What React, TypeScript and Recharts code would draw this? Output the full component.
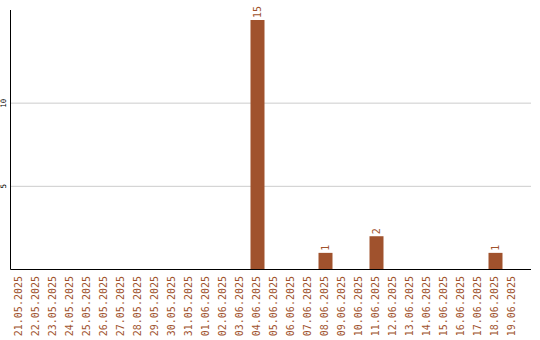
import React from "react";
import { BarChart, Bar, XAxis, YAxis, CartesianGrid, LabelList } from "recharts";

const dates = [
  "21.05.2025", "22.05.2025", "23.05.2025", "24.05.2025", "25.05.2025",
  "26.05.2025", "27.05.2025", "28.05.2025", "29.05.2025", "30.05.2025",
  "31.05.2025", "01.06.2025", "02.06.2025", "03.06.2025", "04.06.2025",
  "05.06.2025", "06.06.2025", "07.06.2025", "08.06.2025", "09.06.2025",
  "10.06.2025", "11.06.2025", "12.06.2025", "13.06.2025", "14.06.2025",
  "15.06.2025", "16.06.2025", "17.06.2025", "18.06.2025", "19.06.2025",
];
const counts = [
  0, 0, 0, 0, 0, 0, 0, 0, 0, 0,
  0, 0, 0, 0, 15, 0, 0, 0, 1, 0,
  0, 2, 0, 0, 0, 0, 0, 0, 1, 0,
];
const yTicks = [5, 10];

const data = dates.map((d, i) => ({ date: d, value: counts[i] }));

const BROWN = "#a0522d";
const MONO = "'DejaVu Sans Mono', 'Liberation Mono', monospace";

const XTick = (props: any) => {
  const { x, payload } = props;
  const y = 276;
  return (
    <text
      x={x - 1}
      y={y}
      transform={`rotate(-90 ${x - 1} ${y})`}
      textAnchor="end"
      dominantBaseline="central"
      fill={BROWN}
      fontFamily={MONO}
      fontSize={10}
    >
      {payload.value}
    </text>
  );
};

const YTick = (props: any) => {
  const { y, payload } = props;
  const x = 4;
  return (
    <text
      x={x}
      y={y}
      transform={`rotate(-90 ${x} ${y})`}
      textAnchor="middle"
      dominantBaseline="central"
      fill="#000"
      fontFamily={MONO}
      fontSize={7.5}
    >
      {payload.value}
    </text>
  );
};

const BarLabel = (props: any) => {
  const { x, y, width, value } = props;
  if (!value) return null;
  const cx = x + width / 2;
  const ty = y - 2;
  return (
    <text
      x={cx}
      y={ty}
      transform={`rotate(-90 ${cx} ${ty})`}
      textAnchor="start"
      dominantBaseline="central"
      fill={BROWN}
      fontFamily={MONO}
      fontSize={10}
    >
      {value}
    </text>
  );
};

const gridY = (args: any) => {
  const scale = args.yAxis?.scale;
  if (!scale) return [];
  const s = typeof scale.map === "function" ? (v: number) => scale.map(v) : scale;
  return yTicks.map((t) => s(t));
};

export default function App() {
  return (
    <div style={{ position: "absolute", left: 0, top: 0, width: 540, height: 340, background: "#fff" }}>
      <BarChart
        width={540}
        height={340}
        data={data}
        margin={{ top: 10, right: 9, bottom: 0, left: 0 }}
        barSize={14}
      >
        <CartesianGrid vertical={false} stroke="#cccccc" horizontalCoordinatesGenerator={gridY} />
        <XAxis
          dataKey="date"
          interval={0}
          tickLine={false}
          axisLine={{ stroke: "#000" }}
          height={70.5}
          tick={<XTick />}
          padding={{ left: 0, right: 10.5 }}
        />
        <YAxis
          width={10.5}
          domain={[0, 15.6]}
          ticks={yTicks}
          tickLine={false}
          axisLine={{ stroke: "#000" }}
          tick={<YTick />}
        />
        <Bar dataKey="value" fill={BROWN} isAnimationActive={false}>
          <LabelList dataKey="value" content={<BarLabel />} />
        </Bar>
      </BarChart>
    </div>
  );
}
